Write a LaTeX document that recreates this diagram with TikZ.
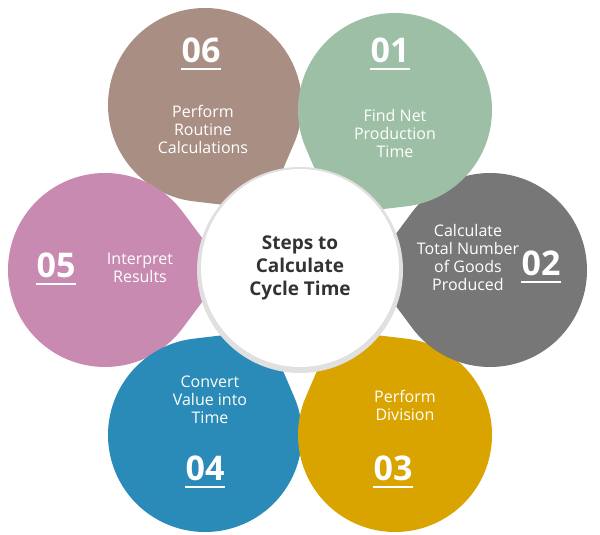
\documentclass[tikz,border=0pt]{standalone}
\usepackage{fontspec}
\setsansfont{Open Sans}
\definecolor{cgreen}{HTML}{9CBFA5}
\definecolor{cgray}{HTML}{777777}
\definecolor{cgold}{HTML}{D9A300}
\definecolor{cblue}{HTML}{2A8BB8}
\definecolor{cpink}{HTML}{C98AB2}
\definecolor{cbrown}{HTML}{A98E84}
\definecolor{ctext}{HTML}{333333}
\usetikzlibrary{positioning}

% teardrop petal: centre, direction from hub, colour
\newcommand{\petal}[3]{%
  \begin{scope}[shift={#1}, rotate=#2]
    \fill[#3] (-121,0) -- (143.13:97) arc (143.13:-143.13:97) -- cycle;
  \end{scope}}

\begin{document}
\begin{tikzpicture}[
        x = 1pt, y = 1pt,
        number/.style = {text = white, font = \sffamily\bfseries\fontsize{34}{34}\selectfont},
        label/.style = {text = white, font = \sffamily\fontsize{16}{18}\selectfont, align = center}
    ]
    \useasboundingbox[fill = white] (0,0) rectangle (600,535);

    \petal{(205,430)}{120}{cbrown}
    \petal{(105,265)}{180}{cpink}
    \petal{(205,100)}{240}{cblue}
    \petal{(395,100)}{300}{cgold}
    \petal{(490,265)}{0}{cgray}
    \petal{(395,425)}{60}{cgreen}

    \fill[black!12] (300,265) circle (103);
    \node[circle, fill = white, minimum size = 198pt, align = center, text = ctext,
          font = \sffamily\bfseries\fontsize{19}{23}\selectfont] (hub) at (300,267)
          {Steps to\\Calculate\\Cycle Time};

    % numbers
    \node[number] (n6) at (201,485) {06};
    \node[number] (n1) at (390,485) {01};
    \node[number] (n2) at (541,272) {02};
    \node[number] (n3) at (393,67) {03};
    \node[number] (n4) at (205,67) {04};
    \node[number] (n5) at (56,270) {05};
    \foreach \n in {n1,n2,n3,n4,n5,n6}
        \draw[white, line width = 2.5pt] ([xshift = -20pt, yshift = -3pt]\n.south) -- ([xshift = 20pt, yshift = -3pt]\n.south);

    % labels
    \node[label] (l6) at (203,406) {Perform\\Routine\\Calculations};
    \node[label] (l1) at (395,401) {Find Net\\Production\\Time};
    \node[label] (l2) at (468,277) {Calculate\\Total Number\\of Goods\\Produced};
    \node[label] (l3) at (405,130) {Perform\\Division};
    \node[label] (l4) at (210,135) {Convert\\Value into\\Time};
    \node[label] (l5) at (140,267) {Interpret\\Results};
\end{tikzpicture}
\end{document}
